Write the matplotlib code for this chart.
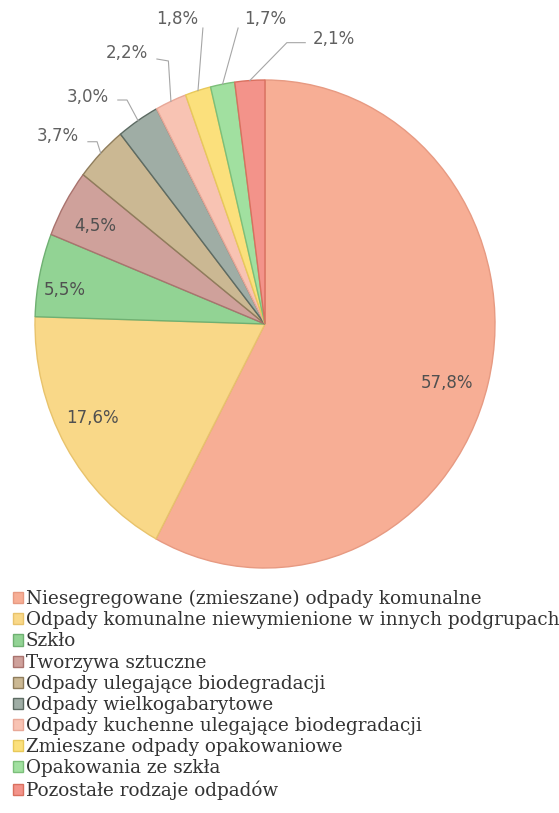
import matplotlib.pyplot as plt
import numpy as np

# data
categories = ['Niesegregowane (zmieszane) odpady komunalne',
              'Odpady komunalne niewymienione w innych podgrupach',
              'Szkło',
              'Tworzywa sztuczne',
              'Odpady ulegające biodegradacji',
              'Odpady wielkogabarytowe',
              'Odpady kuchenne ulegające biodegradacji',
              'Zmieszane odpady opakowaniowe',
              'Opakowania ze szkła',
              'Pozostałe rodzaje odpadów']
shares = [57.8, 17.6, 5.5, 4.5, 3.7, 3.0, 2.2, 1.8, 1.7, 2.1]
labels = ['57,8%', '17,6%', '5,5%', '4,5%', '3,7%', '3,0%', '2,2%', '1,8%', '1,7%', '2,1%']

colors = ['#f7ae95', '#f9d888', '#92d394', '#cfa19b', '#cbb893',
          '#9fada5', '#f8c3b3', '#fbe07c', '#a1e0a0', '#f3938a']
edges = ['#e79a82', '#e8c36c', '#6fb072', '#a9736e', '#8f7d5c',
         '#5d6b63', '#e8a898', '#e8c95a', '#7cbf7a', '#d9705f']

# label placement in data units (pie spans -1..1 both ways)
label_pos = [(0.79, -0.24), (-0.75, -0.385), (-0.87, 0.14), (-0.74, 0.40),
             (-0.90, 0.77), (-0.77, 0.93), (-0.60, 1.11),
             (-0.38, 1.25), (0.00, 1.25), (0.30, 1.17)]
# leader lines: label end -> elbow -> wedge edge
leaders = {4: [(-0.77, 0.747), (-0.73, 0.747)],
           5: [(-0.64, 0.918), (-0.60, 0.918)],
           6: [(-0.47, 1.086), (-0.42, 1.078)],
           7: [(-0.27, 1.213), (-0.27, 1.213)],
           8: [(-0.117, 1.213), (-0.117, 1.213)],
           9: [(0.175, 1.153), (0.095, 1.153)]}

fig = plt.figure(figsize=(5.59, 8.13), dpi=100)
ax = fig.add_axes([35 / 559, 1 - 568 / 813, 460 / 559, 488 / 813])

wedges, _ = ax.pie(shares, colors=colors, startangle=90, counterclock=False,
                   wedgeprops=dict(linewidth=1.0))
for w, ec in zip(wedges, edges):
    w.set_edgecolor(ec)
ax.set_aspect('auto')
ax.set_xlim(-1, 1)
ax.set_ylim(-1, 1)

for i, w in enumerate(wedges):
    x, y = label_pos[i]
    ax.text(x, y, labels[i], ha='center', va='center', fontsize=12,
            color='#505050' if i < 4 else '#606060')
    if i in leaders:
        mid = np.deg2rad((w.theta1 + w.theta2) / 2)
        pts = leaders[i] + [(np.cos(mid), np.sin(mid))]
        ax.plot([p[0] for p in pts], [p[1] for p in pts], color='#a6a6a6',
                lw=0.8, clip_on=False)

fig.legend(wedges, categories, loc='upper left', bbox_to_anchor=(0.023, 1 - 590 / 813),
           frameon=False, prop=dict(family='DejaVu Serif', size=13.2),
           handlelength=0.55, handleheight=0.55, handletextpad=0.15,
           labelspacing=0.17, borderpad=0, borderaxespad=0, labelcolor='#333333')

fig.savefig('out.png', dpi=100, facecolor='white')
